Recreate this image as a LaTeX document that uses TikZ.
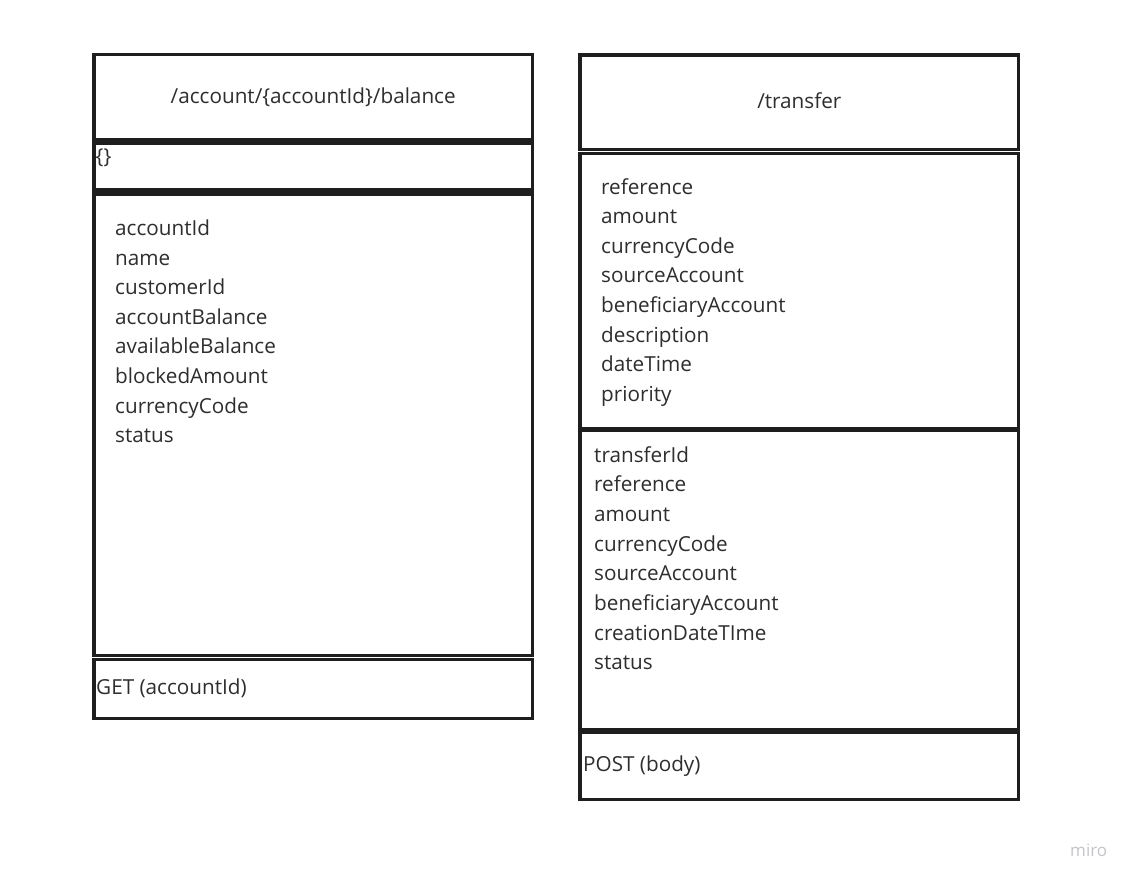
\documentclass[tikz,border=0pt]{standalone}
\usepackage{fontspec}
\setmainfont{Open Sans}
\definecolor{edge}{HTML}{1E1E1E}
\definecolor{ink}{HTML}{2E2E2E}
\definecolor{wm}{HTML}{C4C4CC}
\begin{document}
\begin{tikzpicture}[x=1pt,y=-1pt,
  sec/.style={draw=edge,line width=3.2pt,fill=white},
  txt/.style={inner sep=0pt,anchor=base west,text=ink,font=\fontsize{20.7}{24}\selectfont},
  ttl/.style={inner sep=0pt,anchor=base,text=ink,font=\fontsize{20.7}{24}\selectfont}]
\useasboundingbox[fill=white] (0,0) rectangle (1133,881);
% left box
\draw[sec] (94,54.7) rectangle (532.3,140);
\draw[sec] (94,143) rectangle (532.3,190);
\draw[sec] (94,194) rectangle (532.3,655.3);
\draw[sec] (94,659.5) rectangle (532.3,718.7);
\node[ttl] (lt) at (313.2,103) {/account/\{accountId\}/balance};
\node[txt] (lb) at (95.5,163) {\{\}};
\foreach \t [count=\i] in {accountId,name,customerId,accountBalance,availableBalance,blockedAmount,currencyCode,status}
  \node[txt] (la\i) at (115,235.5+29.6*\i-29.6) {\t};
\node[txt] (lm) at (96,694) {GET (accountId)};
% right box
\draw[sec] (580,55) rectangle (1018.7,149.7);
\draw[sec] (580,153.3) rectangle (1018.7,429);
\draw[sec] (580,430.5) rectangle (1018.7,729.3);
\draw[sec] (580,732.7) rectangle (1018.7,799.3);
\node[ttl] (rt) at (799.3,108) {/transfer};
\foreach \t [count=\i] in {reference,amount,currencyCode,sourceAccount,beneficiaryAccount,description,dateTime,priority}
  \node[txt] (rq\i) at (601,194+29.6*\i-29.6) {\t};
\foreach \t [count=\i] in {transferId,reference,amount,currencyCode,sourceAccount,beneficiaryAccount,creationDateTIme,status}
  \node[txt] (rs\i) at (594,462+29.7*\i-29.7) {\t};
\node[txt] (rm) at (583,771.5) {POST (body)};
% watermark
\node[inner sep=0pt,anchor=base west,text=wm,font=\fontsize{17}{20}\selectfont] (miro) at (1070,856) {miro};
\end{tikzpicture}
\end{document}
